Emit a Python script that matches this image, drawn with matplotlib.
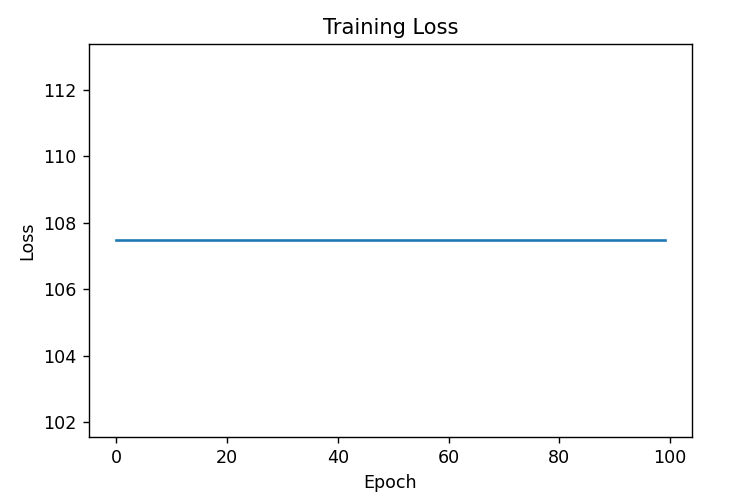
import matplotlib
matplotlib.use("Agg")
import matplotlib.pyplot as plt

epochs = list(range(100))
loss = [107.47] * 100

fig = plt.figure(figsize=(6, 4), dpi=126)
ax = fig.add_axes([89/756, 1-437/504, (692-89)/756, (437-44)/504])
ax.plot(epochs, loss)
ax.set_title("Training Loss")
ax.set_xlabel("Epoch")
ax.set_ylabel("Loss")
fig.savefig("out.png", dpi=126)
